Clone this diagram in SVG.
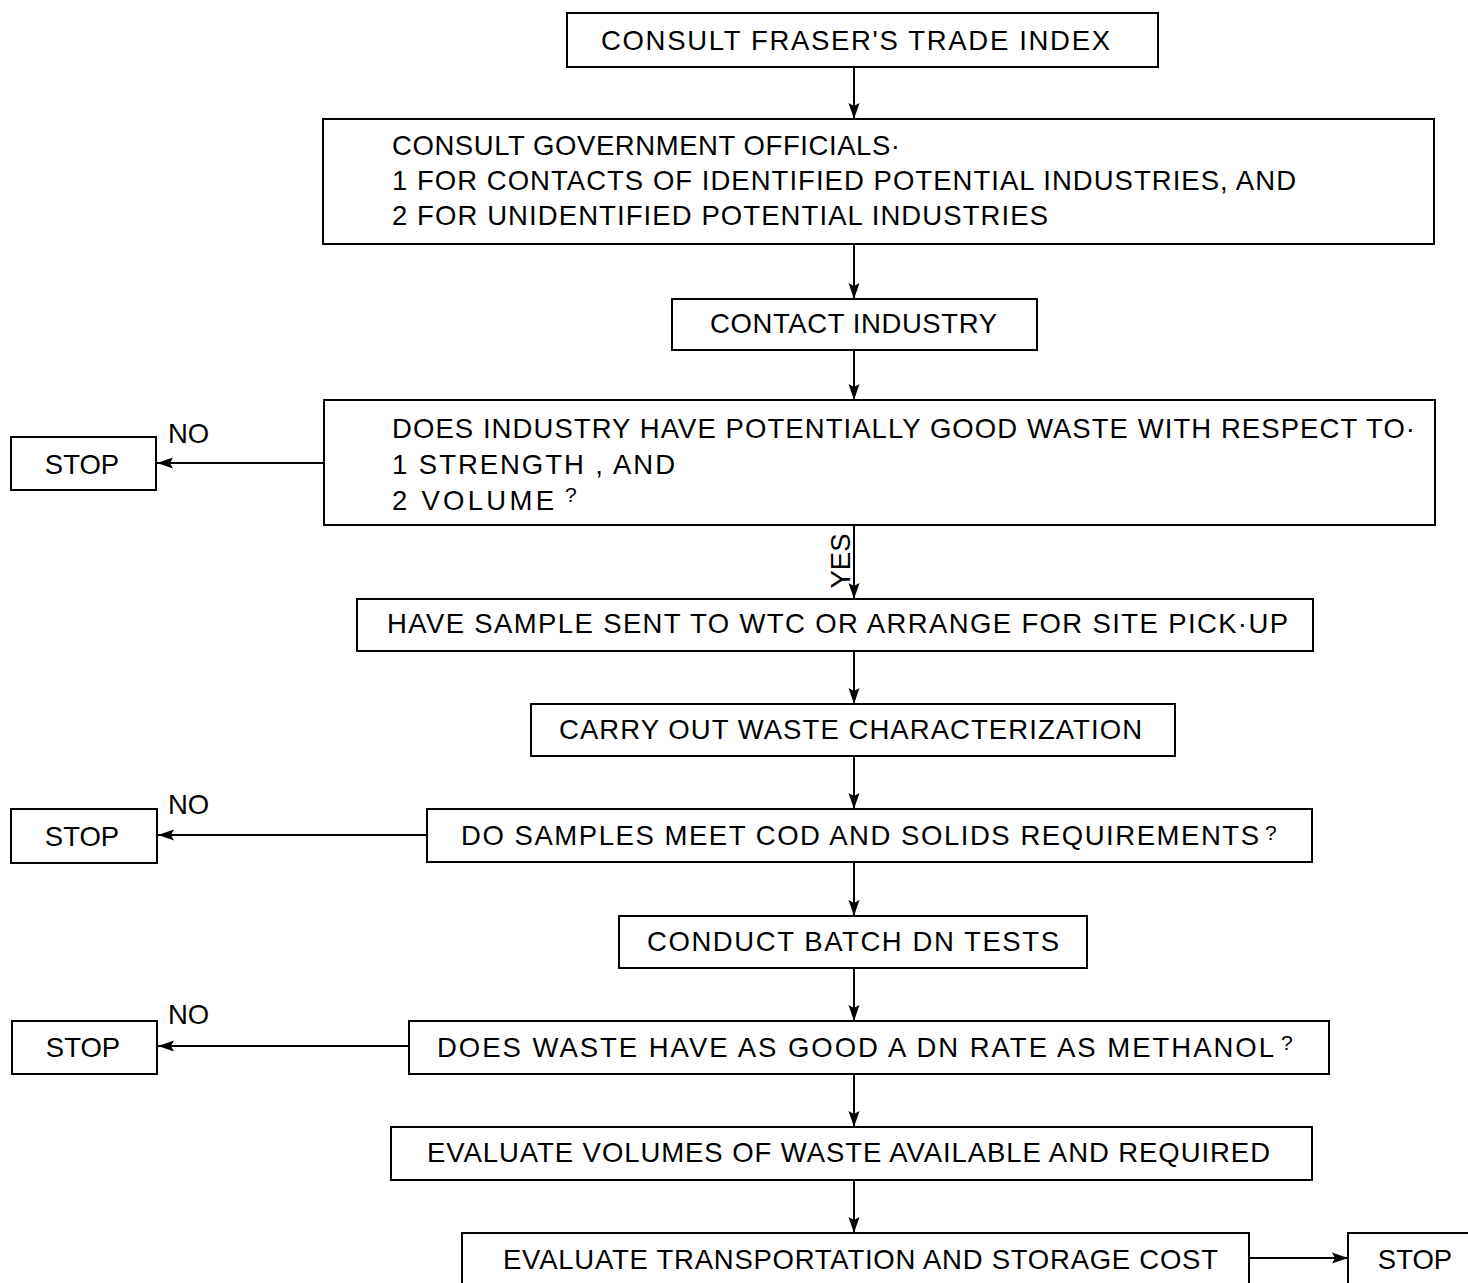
<svg xmlns="http://www.w3.org/2000/svg" width="1468" height="1283" viewBox="0 0 1468 1283">
<style>
.box{fill:#fff;stroke:#000;stroke-width:2}
.t{font-family:"Liberation Sans",Arial,sans-serif;font-size:27.5px;fill:#000}
.q{font-family:"Liberation Sans",Arial,sans-serif;font-size:21px;fill:#000}
.c{stroke:#000;stroke-width:2;fill:none;marker-end:url(#ah)}
</style>
<defs>
<marker id="ah" markerUnits="userSpaceOnUse" markerWidth="16" markerHeight="12" refX="16" refY="6" orient="auto">
<path d="M0,0.5 L16,6 L0,11.5 L3,6 Z" fill="#000"/>
</marker>
</defs>
<rect width="1468" height="1283" fill="#fff"/>
<g id="connectors">
<line class="c" x1="854" y1="67" x2="854" y2="119"/>
<line class="c" x1="854" y1="244" x2="854" y2="299"/>
<line class="c" x1="854" y1="350" x2="854" y2="400"/>
<line class="c" x1="854" y1="525" x2="854" y2="599"/>
<line class="c" x1="854" y1="651" x2="854" y2="704"/>
<line class="c" x1="854" y1="756" x2="854" y2="809"/>
<line class="c" x1="854" y1="862" x2="854" y2="916"/>
<line class="c" x1="854" y1="968" x2="854" y2="1021"/>
<line class="c" x1="854" y1="1074" x2="854" y2="1127"/>
<line class="c" x1="854" y1="1180" x2="854" y2="1233"/>
<line class="c" x1="324" y1="463" x2="157" y2="463"/>
<line class="c" x1="427" y1="835" x2="158" y2="835"/>
<line class="c" x1="409" y1="1046" x2="158" y2="1046"/>
<line class="c" x1="1249" y1="1258" x2="1348" y2="1258"/>
<text class="t" x="168" y="443">NO</text>
<text class="t" x="168" y="814">NO</text>
<text class="t" x="168" y="1024">NO</text>
<text class="t" transform="translate(850,561) rotate(-90)" text-anchor="middle">YES</text>
</g>
<g id="n1"><rect class="box" x="567" y="13" width="591" height="54"/>
<text class="t" x="601" y="50" textLength="509" lengthAdjust="spacing">CONSULT FRASER'S TRADE INDEX</text></g>
<g id="n2"><rect class="box" x="323" y="119" width="1111" height="125"/>
<text class="t" x="392" y="155" textLength="508" lengthAdjust="spacing">CONSULT GOVERNMENT OFFICIALS·</text>
<text class="t" x="392" y="190" textLength="904" lengthAdjust="spacing">1 FOR CONTACTS OF IDENTIFIED POTENTIAL INDUSTRIES, AND</text>
<text class="t" x="392" y="225" textLength="656" lengthAdjust="spacing">2 FOR UNIDENTIFIED POTENTIAL INDUSTRIES</text></g>
<g id="n3"><rect class="box" x="672" y="299" width="365" height="51"/>
<text class="t" x="710" y="333" textLength="287" lengthAdjust="spacing">CONTACT INDUSTRY</text></g>
<g id="n4"><rect class="box" x="324" y="400" width="1111" height="125"/>
<text class="t" x="392" y="438" textLength="1023" lengthAdjust="spacing">DOES INDUSTRY HAVE POTENTIALLY GOOD WASTE WITH RESPECT TO·</text>
<text class="t" x="392" y="474" textLength="283" lengthAdjust="spacing">1  STRENGTH , AND</text>
<text class="t" x="392" y="510" textLength="162" lengthAdjust="spacing">2  VOLUME</text>
<text class="q" x="565" y="502">?</text></g>
<g id="n5"><rect class="box" x="357" y="599" width="956" height="52"/>
<text class="t" x="387" y="633" textLength="901" lengthAdjust="spacing">HAVE SAMPLE SENT TO WTC OR ARRANGE FOR SITE PICK·UP</text></g>
<g id="n6"><rect class="box" x="531" y="704" width="644" height="52"/>
<text class="t" x="559" y="739" textLength="583" lengthAdjust="spacing">CARRY OUT WASTE CHARACTERIZATION</text></g>
<g id="n7"><rect class="box" x="427" y="809" width="885" height="53"/>
<text class="t" x="461" y="845" textLength="798" lengthAdjust="spacing">DO SAMPLES MEET COD AND SOLIDS REQUIREMENTS</text>
<text class="q" x="1265" y="840">?</text></g>
<g id="n8"><rect class="box" x="619" y="916" width="468" height="52"/>
<text class="t" x="647" y="951" textLength="412" lengthAdjust="spacing">CONDUCT BATCH DN TESTS</text></g>
<g id="n9"><rect class="box" x="409" y="1021" width="920" height="53"/>
<text class="t" x="437" y="1057" textLength="837" lengthAdjust="spacing">DOES WASTE HAVE AS GOOD A DN RATE AS METHANOL</text>
<text class="q" x="1281" y="1050">?</text></g>
<g id="n10"><rect class="box" x="391" y="1127" width="921" height="53"/>
<text class="t" x="427" y="1162" textLength="843" lengthAdjust="spacing">EVALUATE VOLUMES OF WASTE AVAILABLE AND REQUIRED</text></g>
<g id="n11"><rect class="box" x="462" y="1233" width="787" height="60"/>
<text class="t" x="503" y="1269" textLength="715" lengthAdjust="spacing">EVALUATE TRANSPORTATION AND STORAGE COST</text></g>
<g id="s1"><rect class="box" x="11" y="437" width="145" height="53"/>
<text class="t" x="82" y="474" text-anchor="middle">STOP</text></g>
<g id="s2"><rect class="box" x="11" y="809" width="146" height="54"/>
<text class="t" x="82" y="846" text-anchor="middle">STOP</text></g>
<g id="s3"><rect class="box" x="12" y="1021" width="145" height="53"/>
<text class="t" x="83" y="1057" text-anchor="middle">STOP</text></g>
<g id="s4"><rect class="box" x="1348" y="1233" width="130" height="60"/>
<text class="t" x="1415" y="1269" text-anchor="middle">STOP</text></g>
</svg>
